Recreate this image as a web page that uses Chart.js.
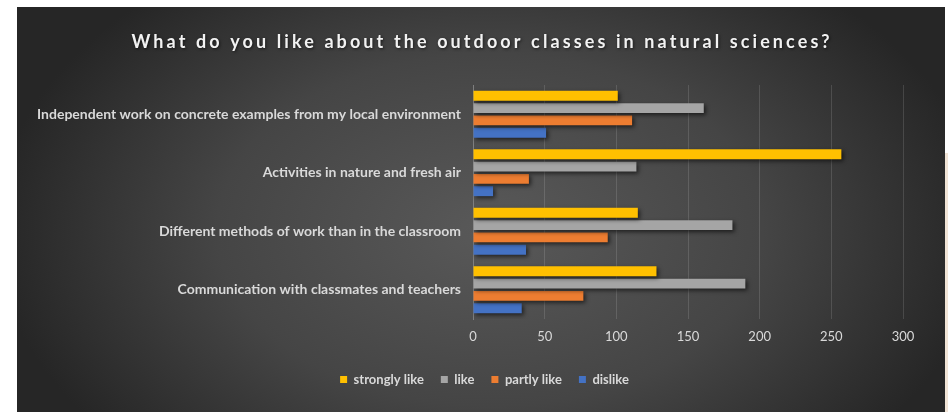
<!DOCTYPE html>
<html>
<head>
<meta charset="utf-8">
<script src="https://cdn.jsdelivr.net/npm/chart.js@4"></script>
<style>
  html, body { margin: 0; padding: 0; background: #ffffff; }
  #wrap { position: relative; width: 948px; height: 412px; }
  #edge { position: absolute; left: 945px; top: 153px; width: 3px; height: 259px; background: #f1e4d6; }
</style>
</head>
<body>
<div id="wrap">
  <canvas id="surveyChart" width="948" height="412"></canvas>
  <div id="edge"></div>
</div>
<script>
// survey answers
const categories = [
    'Independent work on concrete examples from my local environment',
    'Activities in nature and fresh air',
    'Different methods of work than in the classroom',
    'Communication with classmates and teachers'
];
const seriesNames = ['strongly like', 'like', 'partly like', 'dislike'];
const stronglyLike = [101, 257, 115, 128];
const like = [161, 114, 181, 190];
const partlyLike = [111, 39, 94, 77];
const dislike = [51, 14, 37, 34];
const xTicks = [0, 50, 100, 150, 200, 250, 300];

const titleText = 'What do you like about the outdoor classes in natural sciences?';
const colors = ['#ffc000', '#a5a5a5', '#ed7d31', '#4472c4'];

// dark panel with a soft radial glow + spaced title
const panelBg = {
    id: 'panelBg',
    beforeDraw(chart) {
        const ctx = chart.ctx;
        const x0 = 17, y0 = 7, x1 = 945, y1 = 412;
        ctx.save();
        ctx.beginPath();
        ctx.rect(x0, y0, x1 - x0, y1 - y0);
        ctx.clip();
        ctx.translate(490, 230);
        ctx.scale(1.55, 1);
        const g = ctx.createRadialGradient(0, 0, 0, 0, 0, 320);
        g.addColorStop(0, '#595959');
        g.addColorStop(0.55, '#454545');
        g.addColorStop(1, '#262626');
        ctx.fillStyle = g;
        ctx.fillRect(-400, -300, 800, 600);
        ctx.restore();

        ctx.save();
        ctx.font = 'bold 18px Lato';
        ctx.letterSpacing = '3.1px';
        ctx.fillStyle = '#f2f2f2';
        ctx.textAlign = 'center';
        ctx.textBaseline = 'alphabetic';
        ctx.shadowColor = 'rgba(0,0,0,0.6)';
        ctx.shadowBlur = 3;
        ctx.shadowOffsetX = 1;
        ctx.shadowOffsetY = 1;
        ctx.fillText(titleText, 482, 48);
        ctx.restore();
    }
};

// centre the legend under the whole panel, not just the padded box
const legendShift = {
    id: 'legendShift',
    afterLayout(chart) {
        chart.legend.left += 23;
        chart.legend.right += 23;
    }
};

// drop shadow under bars
const barShadow = {
    id: 'barShadow',
    beforeDatasetsDraw(chart) {
        const ctx = chart.ctx;
        ctx.save();
        ctx.shadowColor = 'rgba(0,0,0,0.6)';
        ctx.shadowBlur = 4;
        ctx.shadowOffsetX = 2;
        ctx.shadowOffsetY = 2;
    },
    afterDatasetsDraw(chart) {
        chart.ctx.restore();
    }
};

const values = [stronglyLike, like, partlyLike, dislike];

new Chart(document.getElementById('surveyChart'), {
    type: 'bar',
    data: {
        labels: categories,
        datasets: seriesNames.map((name, i) => ({
            label: name,
            data: values[i],
            backgroundColor: colors[i],
            borderWidth: 0,
            categoryPercentage: 0.84,
            barPercentage: 0.81
        }))
    },
    options: {
        indexAxis: 'y',
        responsive: false,
        animation: false,
        layout: {
            padding: { left: 20, right: 45, top: 85, bottom: 16 }
        },
        plugins: {
            title: { display: false },
            tooltip: { enabled: false },
            legend: {
                position: 'bottom',
                labels: {
                    boxWidth: 7,
                    boxHeight: 7,
                    padding: 17,
                    color: '#d9d9d9',
                    font: { family: 'Lato', size: 13, weight: 'bold' }
                }
            }
        },
        scales: {
            x: {
                min: 0,
                max: 300,
                afterBuildTicks(scale) {
                    scale.ticks = xTicks.map(v => ({ value: v }));
                },
                afterFit(scale) { scale.height = 37; },
                grid: {
                    color: 'rgba(255,255,255,0.13)',
                    drawTicks: false
                },
                border: { display: false },
                ticks: {
                    color: '#d9d9d9',
                    padding: 10,
                    font: { family: 'Lato', size: 13 }
                }
            },
            y: {
                afterFit(scale) { scale.width = 453; },
                grid: { display: false, drawTicks: false },
                border: { color: '#7f7f7f', width: 1 },
                ticks: {
                    color: '#d9d9d9',
                    padding: 12,
                    font: { family: 'Lato', size: 14, weight: 'bold' }
                }
            }
        }
    },
    plugins: [panelBg, legendShift, barShadow]
});
</script>
</body>
</html>
